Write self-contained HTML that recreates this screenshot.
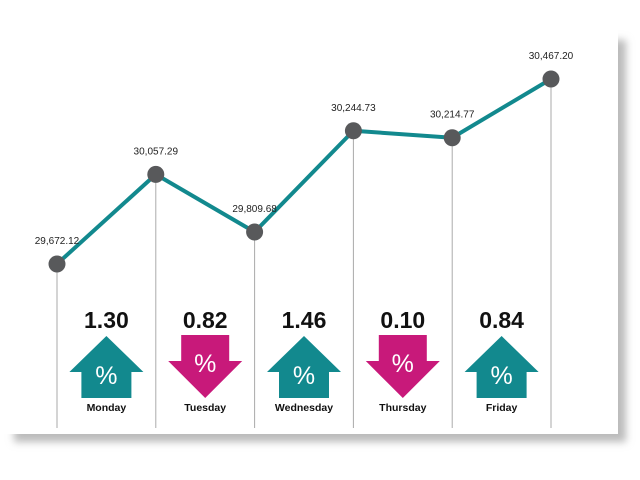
<!DOCTYPE html>
<html><head><meta charset="utf-8"><style>
html,body{margin:0;padding:0;background:#fff;width:640px;height:480px;overflow:hidden}
svg{display:block;font-family:"Liberation Sans",sans-serif}
</style></head><body>
<svg id="chart" width="640" height="480" viewBox="0 0 640 480">
<defs><filter id="sh" x="-5%" y="-5%" width="115%" height="120%"><feGaussianBlur stdDeviation="4"/></filter></defs>
<rect x="14" y="40" width="612" height="402" fill="#bbb" filter="url(#sh)"/>
<rect x="0" y="0" width="618" height="434" fill="#fff"/>
<g id="marks"></g>
</svg>
<script>
const days=["Monday","Tuesday","Wednesday","Thursday","Friday"];
const closes=[29672.12,30057.29,29809.68,30244.73,30214.77,30467.20];
const closeLabels=["29,672.12","30,057.29","29,809.68","30,244.73","30,214.77","30,467.20"];
const changes=[1.30,-0.82,1.46,-0.10,0.84];
const changeLabels=["1.30","0.82","1.46","0.10","0.84"];
const NS="http://www.w3.org/2000/svg";
const g=document.getElementById("marks");
const x=i=>57+i*98.8;
const y=v=>264-(v-29672.12)*(185/795.08);
function mk(t,a){const e=document.createElementNS(NS,t);for(const k in a)e.setAttribute(k,a[k]);g.appendChild(e);return e;}
closes.forEach((v,i)=>{
  const l=mk("line",{x1:x(i),y1:y(v),x2:x(i),y2:428,stroke:"#aaa","stroke-width":1});
  
  
});
const pts=closes.map((v,i)=>x(i)+","+y(v)).join(" ");
const pl=mk("polyline",{points:pts,fill:"none",stroke:"#12898e","stroke-width":4,"stroke-linejoin":"round"});


closes.forEach((v,i)=>{
  const c=mk("circle",{cx:x(i),cy:y(v),r:8.5,fill:"#58595b"});
  
  
  const t=mk("text",{x:x(i),y:y(v)-20,"font-size":10,"text-anchor":"middle",fill:"#222"});
  t.textContent=closeLabels[i];
  
  
});
days.forEach((d,i)=>{
  const cx=(x(i)+x(i+1))/2, up=changes[i]>=0;
  const n=mk("text",{x:cx,y:328,"font-size":23,"font-weight":"bold","text-anchor":"middle",fill:"#111"});
  n.textContent=changeLabels[i];
  
  
  let p;
  if(up) p=[[cx,336],[cx+37,372],[cx+25,372],[cx+25,398],[cx-25,398],[cx-25,372],[cx-37,372]];
  else p=[[cx-24,335],[cx+24,335],[cx+24,361],[cx+37,361],[cx,398],[cx-37,361],[cx-24,361]];
  const a=mk("polygon",{points:p.map(q=>q.join(",")).join(" "),fill:up?"#12898e":"#c8197a"});
  
  
  const pc=mk("text",{x:cx,y:up?384:372,"font-size":25,"text-anchor":"middle",fill:"#fff"});
  pc.textContent="%";
  
  
  const dl=mk("text",{x:cx,y:411,"font-size":10.5,"font-weight":"bold","text-anchor":"middle",fill:"#111"});
  dl.textContent=d;
  
  
});
</script>
</body></html>
